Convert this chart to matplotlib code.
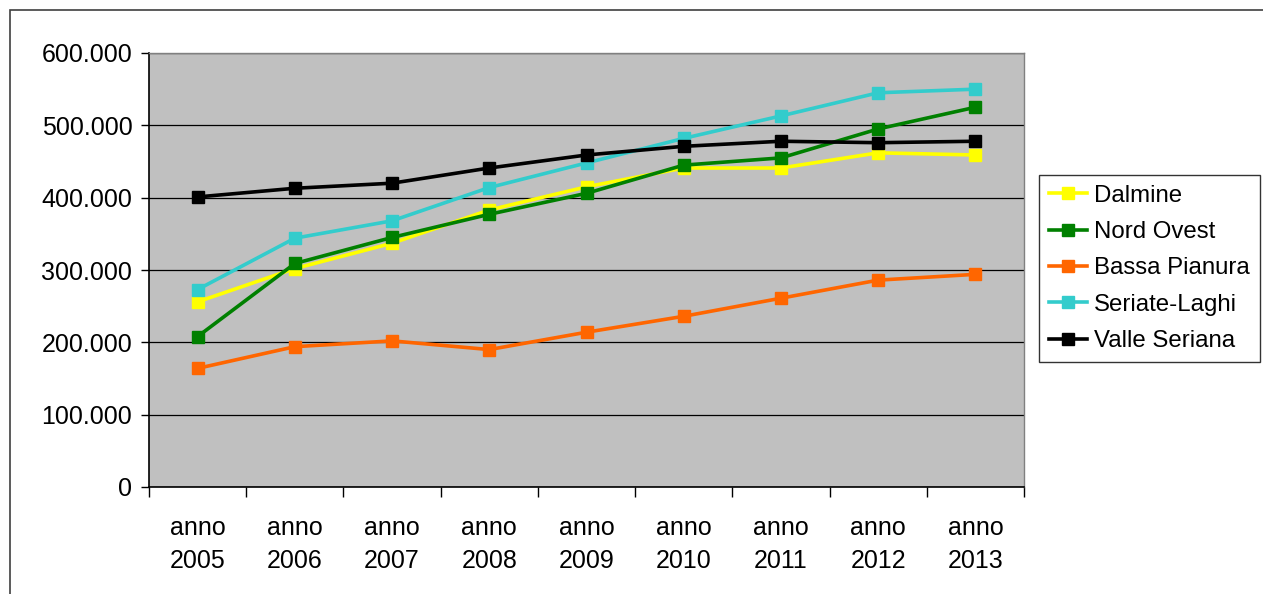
import numpy as np
import matplotlib.pyplot as plt
from matplotlib.ticker import FuncFormatter
from matplotlib.patches import Rectangle

plt.rcParams['font.family'] = ['Liberation Sans', 'DejaVu Sans']

years = ['2005', '2006', '2007', '2008', '2009', '2010', '2011', '2012', '2013']
dalmine = [256, 302, 337, 383, 415, 441, 441, 462, 459]
nord_ovest = [208, 309, 345, 377, 406, 445, 455, 495, 525]
bassa_pianura = [164, 194, 202, 190, 214, 236, 261, 286, 294]
seriate_laghi = [273, 344, 368, 414, 448, 482, 513, 545, 550]
valle_seriana = [401, 413, 420, 441, 459, 471, 478, 476, 478]

series = [
    ('Dalmine', dalmine, '#FFFF00'),
    ('Nord Ovest', nord_ovest, '#008000'),
    ('Bassa Pianura', bassa_pianura, '#FF6600'),
    ('Seriate-Laghi', seriate_laghi, '#33CCCC'),
    ('Valle Seriana', valle_seriana, '#000000'),
]

fig = plt.figure(figsize=(12.63, 5.94), dpi=100)
# outer chart border (runs off the right and bottom edges)
fig.patches.append(Rectangle((10 / 1263, -0.1), 1.1, 1 - 10 / 594 + 0.1,
                             transform=fig.transFigure, fill=False,
                             edgecolor='#404040', linewidth=1.2))
ax = fig.add_axes([149 / 1263, 107 / 594, 875 / 1263, 434 / 594])
ax.set_facecolor('#C0C0C0')

x = np.arange(len(years))
for name, vals, col in series:
    ax.plot(x, np.array(vals) * 1000, color=col, lw=2.6, marker='s', ms=8.5,
            label=name, zorder=3)

ax.set_xlim(-0.5, len(years) - 0.5)
ax.set_ylim(0, 600000)
ax.set_yticks(np.arange(0, 600001, 100000))
ax.yaxis.set_major_formatter(FuncFormatter(
    lambda v, p: '0' if v == 0 else f'{int(v):,}'.replace(',', '.')))
ax.grid(axis='y', color='black', lw=0.9, zorder=1)
ax.set_axisbelow(True)

ax.set_xticks(np.arange(-0.5, len(years)), [''] * (len(years) + 1))
ax.set_xticks(x, ['anno\n' + y for y in years], minor=True)
ax.tick_params(axis='x', which='major', length=7, width=1, direction='out')
ax.tick_params(axis='x', which='minor', length=0, pad=21, labelsize=18)
ax.tick_params(axis='y', length=6, width=1, labelsize=18, pad=6)
for lab in ax.get_xticklabels(minor=True):
    lab.set_linespacing(1.45)

for s in ['left', 'bottom']:
    ax.spines[s].set_color('black')
    ax.spines[s].set_linewidth(1.2)
for s in ['top', 'right']:
    ax.spines[s].set_color('#808080')
    ax.spines[s].set_linewidth(1)

leg = ax.legend(loc='upper left', bbox_to_anchor=(1039 / 1263, 419 / 594),
                bbox_transform=fig.transFigure, fontsize=17.3, frameon=True,
                fancybox=False, edgecolor='black', handlelength=1.6,
                handletextpad=0.3, labelspacing=0.6, borderpad=0.4,
                borderaxespad=0)
leg.get_frame().set_linewidth(1)

fig.savefig('out.png', dpi=100)
